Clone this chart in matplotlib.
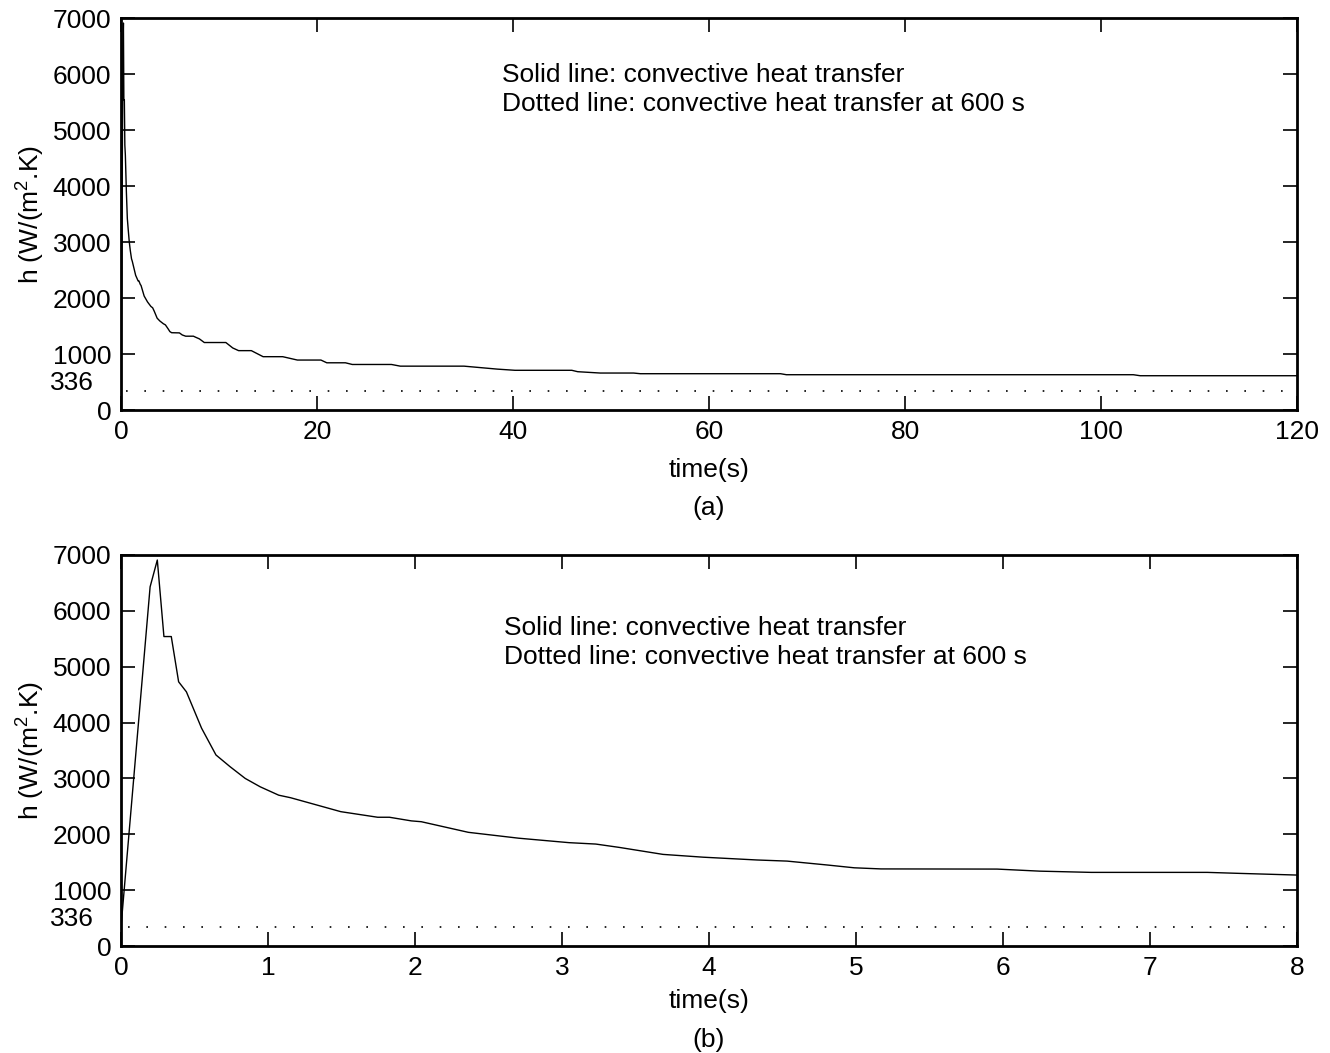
import matplotlib
matplotlib.use("Agg")
import matplotlib.pyplot as plt
import matplotlib.transforms as mtransforms
import numpy as np

plt.rcParams['font.family'] = ['Liberation Sans', 'DejaVu Sans']
plt.rcParams['mathtext.fontset'] = 'custom'
plt.rcParams['mathtext.rm'] = 'Liberation Sans'
plt.rcParams['mathtext.it'] = 'Liberation Sans:italic'

## Data ##

# first 8 s (panel b, also start of panel a)
t_early = [0.0, 0.198, 0.247, 0.292, 0.342, 0.392, 0.445, 0.548, 0.646, 0.742,
           0.845, 0.947, 1.073, 1.153, 1.29, 1.495, 1.746, 1.826, 1.975, 2.043,
           2.363, 2.705, 3.048, 3.23, 3.39, 3.687, 3.96, 4.326, 4.531, 4.805,
           4.988, 5.17, 5.96, 6.25, 6.6, 7.39, 7.61, 8.0]
h_early = [340, 6430, 6910, 5540, 5540, 4730, 4550, 3900, 3420, 3210,
           3000, 2850, 2700, 2655, 2555, 2405, 2305, 2305, 2240, 2225,
           2035, 1930, 1850, 1825, 1765, 1640, 1590, 1540, 1520, 1450,
           1400, 1380, 1377, 1340, 1318, 1318, 1300, 1270]

# remainder of the 120 s run (panel a)
t_late = [8.5, 10.7, 11.4, 12.0, 13.3, 14.5, 16.5, 18.0, 20.4, 21.0,
          22.9, 23.6, 27.6, 28.5, 35.0, 38.4, 40.2, 46.0, 46.6, 48.9,
          52.3, 53.0, 67.3, 67.9, 103.3, 104.0, 120.0]
h_late = [1205, 1205, 1108, 1060, 1060, 952, 952, 892, 892, 843,
          843, 813, 813, 783, 783, 730, 709, 709, 684, 660,
          660, 648, 648, 630, 630, 612, 612]

h_600 = 336  # convective heat transfer at 600 s

t_a = t_early + t_late
h_a = h_early + h_late

yticks = [0, 1000, 2000, 3000, 4000, 5000, 6000, 7000]
note = "Solid line: convective heat transfer\nDotted line: convective heat transfer at 600 s"

FS = 19

fig = plt.figure(figsize=(13.3, 10.53), dpi=100)
ax1 = fig.add_axes((121/1330, 1-410/1053, 1176/1330, 392/1053))
ax2 = fig.add_axes((121/1330, 1-946/1053, 1176/1330, 391/1053))


def style(ax, xmax, xticks):
    ax.set_xlim(0, xmax)
    ax.set_ylim(0, 7000)
    ax.set_xticks(xticks)
    ax.set_yticks(yticks)
    ax.tick_params(direction='in', top=True, right=True, length=10, width=1.2,
                   labelsize=FS, pad=7)
    for s in ax.spines.values():
        s.set_linewidth(2)
    ax.set_ylabel('h (W/(m$^2$.K)', fontsize=FS, labelpad=4)
    ax.set_xlabel('time(s)', fontsize=FS, labelpad=10)
    # 336 marker label, left of tick labels
    tr = mtransforms.offset_copy(ax.get_yaxis_transform(), fig=fig, x=0, y=8, units='dots')
    ax.text(-0.06, h_600, str(h_600), transform=tr, ha='left', va='center', fontsize=FS)


# panel (a)
ax1.plot(t_a, h_a, color='black', lw=1.0)
ax1.plot([0.5, 120], [h_600, h_600], color='black', lw=1.2, linestyle=(0, (1, 10)))
style(ax1, 120, [0, 20, 40, 60, 80, 100, 120])
ax1.text(0.324, 0.885, note, transform=ax1.transAxes, fontsize=FS, va='top',
         linespacing=1.25)
fig.text(709/1330, 1-508/1053, '(a)', ha='center', va='center', fontsize=FS)

# panel (b)
ax2.plot(t_early, h_early, color='black', lw=1.0)
ax2.plot([0.05, 8], [h_600, h_600], color='black', lw=1.2, linestyle=(0, (1, 10)))
style(ax2, 8, list(range(9)))
ax2.text(0.326, 0.845, note, transform=ax2.transAxes, fontsize=FS, va='top',
         linespacing=1.3)
ax2.xaxis.labelpad = 7
fig.text(709/1330, 1-1040/1053, '(b)', ha='center', va='center', fontsize=FS)

fig.savefig('out.png', dpi=100)
